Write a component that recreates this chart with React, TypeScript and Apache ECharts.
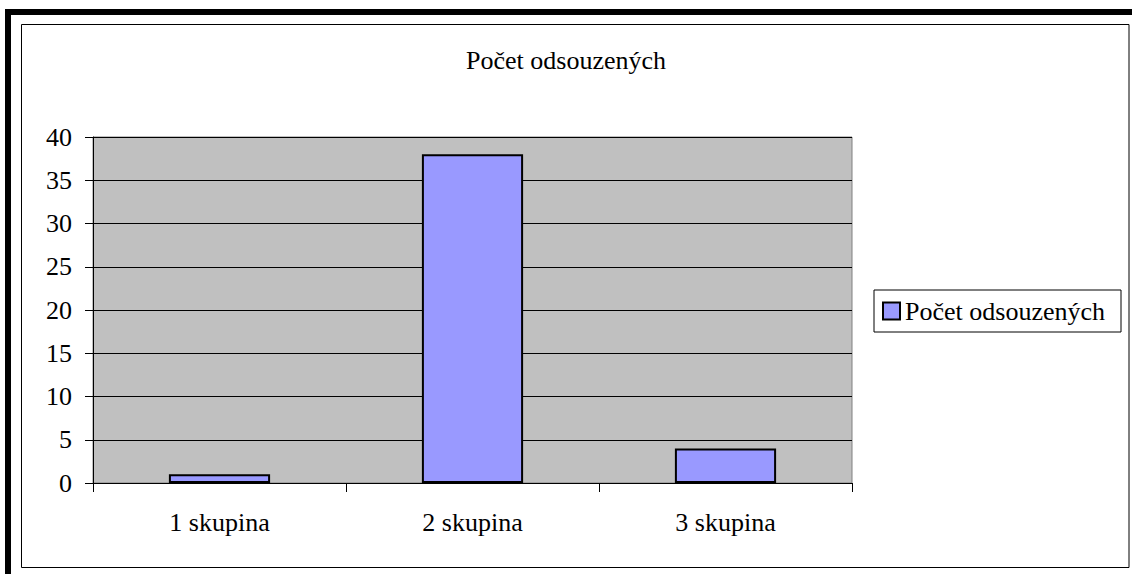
import React, { useEffect, useRef } from "react";
import * as echarts from "echarts";

const categories = ["1 skupina", "2 skupina", "3 skupina"];
const values = [1, 38, 4];
const seriesName = "Počet odsouzených";
const titleText = "Počet odsouzených";

const FONT = "Times New Roman, Liberation Serif, serif";

export default function App() {
  const ref = useRef<HTMLDivElement>(null);
  useEffect(() => {
    if (!ref.current) return;
    const chart = echarts.init(ref.current, undefined, { renderer: "svg" });
    chart.setOption({
      animation: false,
      backgroundColor: "#ffffff",
      textStyle: { fontFamily: FONT },
      title: {
        text: titleText,
        left: "center",
        top: 42,
        textStyle: { fontFamily: FONT, fontSize: 26, fontWeight: "normal", color: "#000" },
      },
      graphic: [
        { type: "rect", shape: { x: 5, y: 9, width: 1127, height: 6 }, style: { fill: "#000" }, silent: true },
        { type: "rect", shape: { x: 5, y: 9, width: 6, height: 565 }, style: { fill: "#000" }, silent: true },
        { type: "rect", shape: { x: 21.5, y: 24.5, width: 1107.5, height: 543 }, style: { fill: "none", stroke: "#000", lineWidth: 1 }, silent: true },
      ],
      legend: {
        orient: "vertical",
        left: 874,
        top: 290,
        borderColor: "#000",
        borderWidth: 1,
        padding: [8, 16, 8, 8],
        itemWidth: 17,
        itemHeight: 17,
        icon: "rect",
        textStyle: { fontFamily: FONT, fontSize: 26, color: "#000" },
        data: [seriesName],
      },
      grid: {
        left: 93,
        top: 137,
        right: 280,
        bottom: 91,
        show: true,
        backgroundColor: "#C0C0C0",
        borderColor: "#808080",
        borderWidth: 1,
      },
      xAxis: {
        type: "category",
        data: categories,
        axisLine: { lineStyle: { color: "#000", width: 1 } },
        axisTick: { show: true, length: 9, lineStyle: { color: "#000" } },
        axisLabel: { fontFamily: FONT, fontSize: 26, color: "#000", margin: 26 },
      },
      yAxis: {
        type: "value",
        min: 0,
        max: 40,
        interval: 5,
        axisLine: { show: true, lineStyle: { color: "#000", width: 1 } },
        axisTick: { show: true, length: 8, lineStyle: { color: "#000" } },
        axisLabel: { fontFamily: FONT, fontSize: 26, color: "#000", margin: 21 },
        splitLine: { show: true, lineStyle: { color: "#000", width: 1 } },
      },
      series: [
        {
          name: seriesName,
          type: "bar",
          data: values,
          barWidth: "40%",
          itemStyle: { color: "#9999FF", borderColor: "#000", borderWidth: 2 },
        },
      ],
    });
    return () => chart.dispose();
  }, []);
  return (
    <div
      ref={ref}
      style={{ position: "absolute", left: 0, top: 0, width: 1132, height: 574 }}
    />
  );
}
